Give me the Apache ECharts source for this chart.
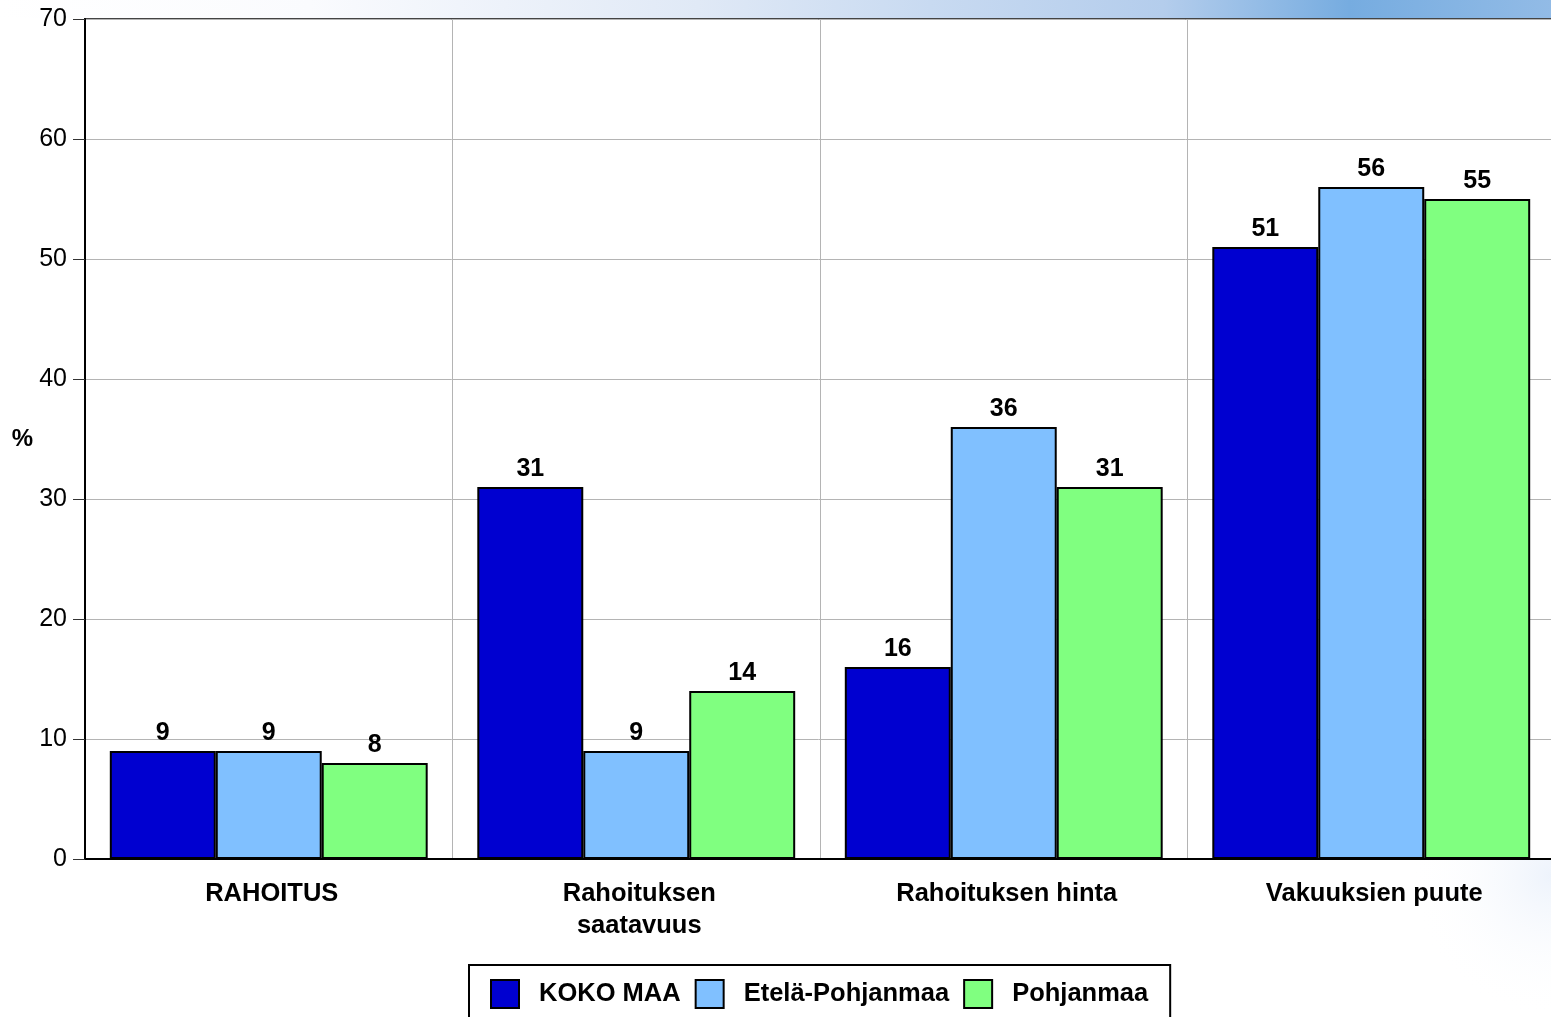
<!DOCTYPE html>
<html>
<head>
<meta charset="utf-8">
<script src="https://cdn.jsdelivr.net/npm/echarts@6/dist/echarts.min.js"></script>
<style>
html,body{margin:0;padding:0;background:#fff;}
#chart{width:1551px;height:1017px;}
</style>
</head>
<body>
<div id="chart"></div>
<script>
const categories = ['RAHOITUS', 'Rahoituksen\nsaatavuus', 'Rahoituksen hinta', 'Vakuuksien puute'];
const seriesNames = ['KOKO MAA', 'Etelä-Pohjanmaa', 'Pohjanmaa'];
const kokoMaa = [9, 31, 16, 51];
const etelaPohjanmaa = [9, 9, 36, 56];
const pohjanmaa = [8, 14, 31, 55];
const yTicks = [0, 10, 20, 30, 40, 50, 60, 70];

const FONT = "'Liberation Sans', Arial, sans-serif";
const colors = ['#0000d0', '#80c0ff', '#80ff80'];
const values = [kokoMaa, etelaPohjanmaa, pohjanmaa];

const chart = echarts.init(document.getElementById('chart'), null, {renderer: 'canvas'});

const series = seriesNames.map((name, i) => ({
  name: name,
  type: 'bar',
  data: values[i],
  barGap: '0%',
  barCategoryGap: '13.5%',
  itemStyle: {color: colors[i], borderColor: '#000', borderWidth: 2},
  label: {
    show: true,
    position: 'top',
    distance: 5,
    color: '#000',
    fontFamily: FONT,
    fontWeight: 'bold',
    fontSize: 25
  },
  emphasis: {disabled: true}
}));

chart.setOption({
  animation: false,
  backgroundColor: '#fff',
  graphic: [
    {
      type: 'rect', z: -10, silent: true,
      shape: {x: 0, y: 0, width: 1551, height: 18},
      style: {
        fill: new echarts.graphic.LinearGradient(0, 0, 1, 0, [
          {offset: 0, color: '#ffffff'},
          {offset: 0.2, color: '#fafbfe'},
          {offset: 0.45, color: '#e0e9f6'},
          {offset: 0.6, color: '#c8daf1'},
          {offset: 0.75, color: '#b4cdec'},
          {offset: 0.87, color: '#76ace0'},
          {offset: 1, color: '#92bbe6'}
        ])
      }
    },
    {
      type: 'rect', z: -10, silent: true,
      shape: {x: 1300, y: 860, width: 251, height: 157},
      style: {
        fill: new echarts.graphic.RadialGradient(1, 0.1, 0.9, [
          {offset: 0, color: 'rgba(230,238,250,0.7)'},
          {offset: 1, color: 'rgba(255,255,255,0)'}
        ])
      }
    }
  ],
  grid: {
    left: 85, top: 19, right: -4, bottom: 158,
    outerBoundsMode: 'none',
    containLabel: false,
    show: true, borderColor: '#444', borderWidth: 2, backgroundColor: 'rgba(0,0,0,0)'
  },
  legend: {
    data: seriesNames,
    left: 469, top: 965,
    orient: 'horizontal',
    backgroundColor: '#fff',
    borderColor: '#000', borderWidth: 2, borderRadius: 0,
    padding: [14, 22, 14, 21],
    itemWidth: 28, itemHeight: 28, itemGap: 14,
    icon: 'rect',
    textStyle: {color: '#000', fontFamily: FONT, fontWeight: 'bold', fontSize: 25.5, padding: [0, 0, 0, 15]},
    selectedMode: false
  },
  xAxis: {
    type: 'category',
    data: categories,
    axisLine: {show: true, lineStyle: {color: '#000', width: 2}},
    axisTick: {show: false},
    splitLine: {show: true, lineStyle: {color: '#b4b4b4', width: 1}},
    axisLabel: {
      color: '#000', fontFamily: FONT, fontWeight: 'bold', fontSize: 25.5,
      margin: 19, lineHeight: 32, interval: 0, padding: [0, 0, 0, 6]
    }
  },
  yAxis: {
    type: 'value',
    min: yTicks[0], max: yTicks[yTicks.length - 1], interval: 10,
    name: '%',
    nameLocation: 'middle',
    nameRotate: 0,
    nameGap: 52,
    nameTextStyle: {color: '#000', fontFamily: FONT, fontWeight: 'bold', fontSize: 24},
    axisLine: {show: true, lineStyle: {color: '#000', width: 2}},
    axisTick: {show: true, length: 12, lineStyle: {color: '#333', width: 1}},
    splitLine: {show: true, lineStyle: {color: '#b4b4b4', width: 1}},
    axisLabel: {color: '#000', fontFamily: FONT, fontSize: 25, margin: 18}
  },
  series: series
});
</script>
</body>
</html>
